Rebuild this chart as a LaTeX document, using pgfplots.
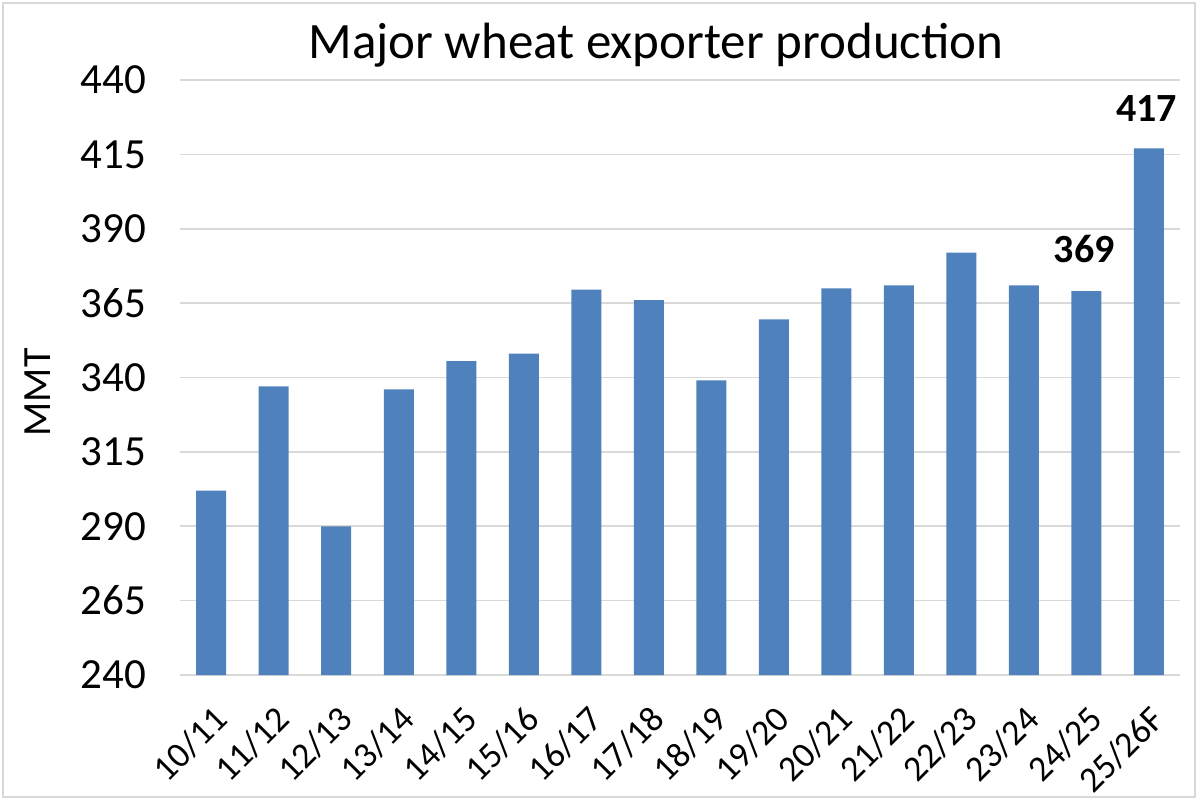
\documentclass[border=0pt]{standalone}
\usepackage{fontspec}
\setmainfont{Carlito}
\usepackage{pgfplots}
\pgfplotsset{compat=1.18}
\definecolor{barblue}{RGB}{79,129,189}
\definecolor{gridgray}{RGB}{217,217,217}
\begin{document}
\begin{tikzpicture}
\path[use as bounding box] (-90pt,-62.5pt) rectangle (509pt,337.5pt);
\draw[gridgray, line width=1.2pt] (-88.5pt,-61pt) rectangle (507.5pt,336pt);
\begin{axis}[
  at={(0pt,0pt)}, anchor=south west,
  scale only axis, width=500pt, height=297.5pt,
  xmin=-0.5, xmax=15.5, ymin=240, ymax=440,
  ytick={240,265,...,440},
  xtick=data,
  xticklabels={10/11,11/12,12/13,13/14,14/15,15/16,16/17,17/18,18/19,19/20,20/21,21/22,22/23,23/24,24/25,25/26F},
  /pgf/number format/assume math mode=true,
  ymajorgrids, grid style={gridgray, line width=0.8pt},
  axis x line*=bottom, axis y line*=left,
  x axis line style={gridgray, line width=1.2pt, -},
  y axis line style={draw=none},
  major tick length=0pt,
  tick label style={font=\fontsize{21.5}{21.5}\selectfont},
  yticklabel style={xshift=-13.5pt},
  xticklabel style={font=\fontsize{18}{18}\selectfont, rotate=45, anchor=north east, xshift=-6.7pt, yshift=-6.7pt},
  title={Major wheat exporter production},
  title style={font=\fontsize{25.5}{25.5}\selectfont, at={(0.476,1)}, anchor=center, yshift=11.5pt},
  ylabel={MMT},
  ylabel style={font=\fontsize{20}{20}\selectfont, at={(axis description cs:-0.142,0.475)}, anchor=center},
  clip=false,
]
\addplot[ybar, bar width=15pt, fill=barblue, draw=none] coordinates {
  (0,302) (1,337) (2,290) (3,336) (4,345.5) (5,348) (6,369.5) (7,366)
  (8,339) (9,359.5) (10,370) (11,371) (12,382) (13,371) (14,369) (15,417)
};
\node[font=\bfseries\fontsize{20}{20}\selectfont, anchor=center, yshift=21pt, xshift=-1pt] at (axis cs:14,369) {369};
\node[font=\bfseries\fontsize{20}{20}\selectfont, anchor=center, yshift=20pt, xshift=-1pt] at (axis cs:15,417) {417};
\end{axis}
\end{tikzpicture}
\end{document}
